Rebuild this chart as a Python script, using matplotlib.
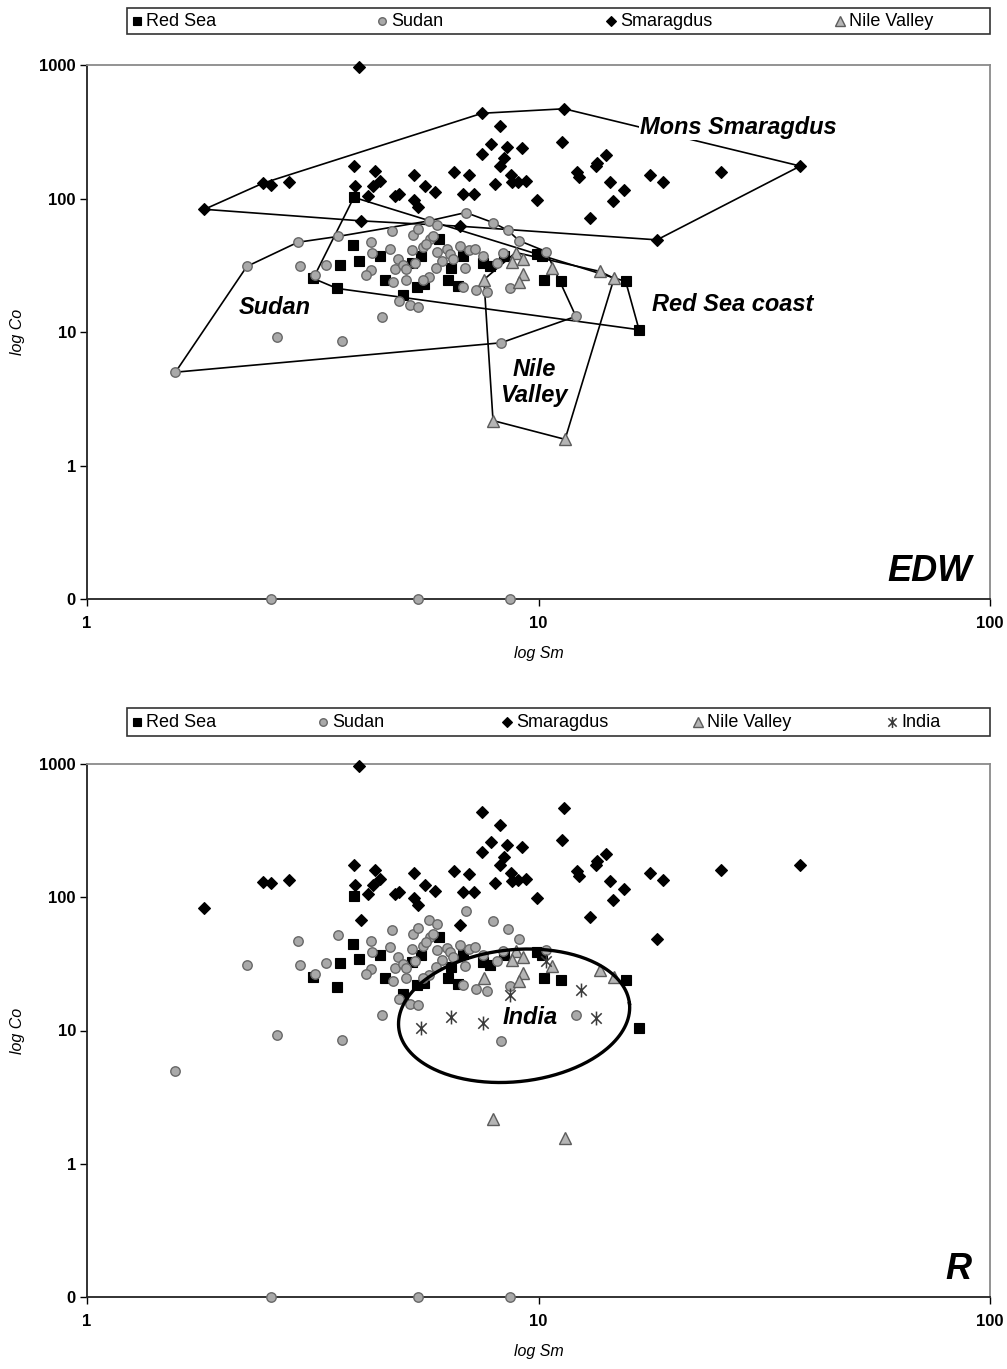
import numpy as np
import matplotlib
matplotlib.use("Agg")
import matplotlib.pyplot as plt
from matplotlib.lines import Line2D
from matplotlib.patches import Rectangle
from matplotlib.path import Path

plt.rcParams['font.family'] = ['Liberation Sans', 'DejaVu Sans']

# valores (Sm e Co, ppm); Co = 0.1 aparece como "0" no eixo
red_sea_sm = [3.9, 3.17, 3.58, 3.88, 4.0, 3.63, 4.46, 4.57, 5.0, 5.25, 5.38, 5.57, 5.49, 6.02,
              6.4, 6.3, 6.63, 6.8, 7.54, 7.81, 8.39, 9.92, 10.2, 10.3, 11.2, 15.6, 16.7]
red_sea_co = [102, 25.2, 21.2, 44.5, 34.3, 32, 36.8, 24.7, 18.8, 32.6, 21.9, 22.7, 36.8, 50,
              29.9, 24.7, 22.3, 37.4, 32.6, 31, 36.8, 38.7, 36.8, 24.7, 23.9, 23.9, 10.4]

sudan_sm = [1.57, 2.26, 2.93, 3.6, 2.96, 3.38, 3.2, 2.63, 3.67, 4.5, 4.26, 4.7, 4.74, 4.28,
            4.26, 4.15, 4.88, 4.8, 4.76, 5.1, 5.0, 5.1, 5.25, 5.27, 5.4, 5.33, 4.9, 5.2,
            5.4, 5.55, 5.75, 5.72, 5.96, 5.96, 6.1, 5.93, 5.72, 5.55, 6.27, 6.37, 6.47, 6.7,
            6.9, 6.88, 6.8, 7.0, 7.23, 7.54, 7.27, 7.7, 7.93, 8.1, 8.35, 8.56, 8.65, 9.05,
            8.26, 10.4, 12.1, 5.84, 5.63, 2.56, 5.41, 8.65]
sudan_co = [5.0, 31, 47, 52, 31, 32, 26.5, 9.2, 8.5, 13, 47, 42, 57, 39,
            29, 26.5, 35.5, 29.4, 23.5, 24.7, 31.5, 29.4, 41, 53, 59, 33, 17.2, 15.8,
            15.5, 43, 50, 68, 63, 40, 34, 30, 26, 24.7, 41.5, 38.7, 35.5, 43.7,
            78.5, 30.4, 21.9, 40.8, 42, 36.8, 20.5, 19.8, 66, 33, 39.4, 57.6, 21.5, 48.4,
            8.3, 40, 13.1, 52.8, 46, 0.1, 0.1, 0.1]

smaragdus_sm = [4.0, 1.82, 2.45, 2.55, 2.8, 3.9, 4.35, 4.45, 3.92, 4.3, 4.2, 4.8, 4.9, 5.3,
                5.6, 5.9, 5.3, 5.4, 6.5, 7.0, 6.8, 7.2, 4.05, 6.7, 7.5, 8.2, 7.85, 8.5,
                9.2, 7.5, 8.4, 8.2, 8.7, 8.0, 8.75, 9.0, 9.4, 9.9, 11.4, 11.3, 12.2, 12.3,
                13.5, 13.4, 14.1, 14.4, 15.5, 14.6, 13.0, 17.7, 18.9, 25.4, 38.0, 18.3]
smaragdus_co = [970, 83, 130, 127, 134, 174, 160, 136, 123, 123, 105, 105, 109, 151,
                123, 111, 98, 87, 157, 149, 109, 109, 68, 62, 435, 350, 258, 245,
                237, 217, 200, 174, 151, 129, 132, 134, 136, 98, 470, 267, 157, 144,
                186, 176, 210, 132, 115, 95, 71, 151, 134, 159, 175, 49]

nile_sm = [7.57, 8.9, 9.24, 9.24, 9.05, 10.7, 13.7, 14.7, 7.93, 11.45, 8.74]
nile_co = [24.7, 39.4, 35.5, 27, 23.5, 30.4, 28.4, 25.2, 2.17, 1.57, 33.7]

india_sm = [5.5, 6.4, 7.54, 8.65, 12.4, 13.4, 10.4]
india_co = [10.5, 12.7, 11.4, 18.5, 20.2, 12.4, 33]

# vertices dos poligonos (indices nas listas acima)
red_sea_hull = [0, 1, 2, 26, 25]
sudan_hull = [0, 1, 2, 3, 31, 42, 50, 53, 55, 57, 58, 56]
smaragdus_hull = [1, 2, 24, 38, 52, 53, 23, 22]
nile_hull = [0, 1, 6, 7, 9, 8]

W, H = 1007, 1369
fig = plt.figure(figsize=(W / 100, H / 100), dpi=100)

AX_L, AX_R = 87, 990
ax1 = fig.add_axes([AX_L / W, 1 - 599 / H, (AX_R - AX_L) / W, 534 / H])
ax2 = fig.add_axes([AX_L / W, 1 - 1297 / H, (AX_R - AX_L) / W, 533 / H])

star = Path([(0, -1), (0, 1), (-0.75, -0.75), (0.75, 0.75), (-0.75, 0.75), (0.75, -0.75)],
            [Path.MOVETO, Path.LINETO] * 3)

st_red = dict(marker='s', ms=7.5, mfc='black', mec='black', mew=0.8)
st_sud = dict(marker='o', ms=6.8, mfc='#a9a9a9', mec='#686868', mew=1.0)
st_sma = dict(marker='D', ms=6.2, mfc='black', mec='black', mew=0.8)
st_nil = dict(marker='^', ms=8.5, mfc='#b5b5b5', mec='#5c5c5c', mew=1.0)
st_ind = dict(marker=star, ms=10, mfc='none', mec='#3a3a3a', mew=1.1)


def setup_axis(ax):
    ax.set_xscale('log')
    ax.set_yscale('log')
    ax.set_xlim(1, 100)
    ax.set_ylim(0.1, 1000)
    ax.set_xticks([1, 10, 100])
    ax.set_xticklabels(['1', '10', '100'])
    ax.set_yticks([0.1, 1, 10, 100, 1000])
    ax.set_yticklabels(['0', '1', '10', '100', '1000'])
    ax.minorticks_off()
    ax.tick_params(direction='out', length=5, width=1, labelsize=12, colors='black')
    ax.tick_params(axis='x', pad=7)
    ax.tick_params(axis='y', pad=3)
    for lab in ax.get_xticklabels() + ax.get_yticklabels():
        lab.set_fontweight('bold')
    for s in ['left', 'bottom']:
        ax.spines[s].set_color('#222222')
        ax.spines[s].set_linewidth(1.3)
    for s in ['top', 'right']:
        ax.spines[s].set_color('#8a8a8a')
        ax.spines[s].set_linewidth(1.3)
    ax.set_xlabel('log Sm', fontsize=11.5, style='italic', labelpad=11)
    ax.set_ylabel('log Co', fontsize=11.5, style='italic', labelpad=10)


def draw_points(ax):
    ax.plot(red_sea_sm, red_sea_co, ls='none', clip_on=False, zorder=3, **st_red)
    ax.plot(sudan_sm, sudan_co, ls='none', clip_on=False, zorder=3, **st_sud)
    ax.plot(smaragdus_sm, smaragdus_co, ls='none', clip_on=False, zorder=3, **st_sma)
    ax.plot(nile_sm, nile_co, ls='none', clip_on=False, zorder=3, **st_nil)


def draw_hull(ax, xs, ys, idx):
    ii = idx + [idx[0]]
    ax.plot([xs[i] for i in ii], [ys[i] for i in ii], color='black', lw=1.2, zorder=2)


# painel de cima: EDW
setup_axis(ax1)
draw_hull(ax1, red_sea_sm, red_sea_co, red_sea_hull)
draw_hull(ax1, sudan_sm, sudan_co, sudan_hull)
draw_hull(ax1, smaragdus_sm, smaragdus_co, smaragdus_hull)
draw_hull(ax1, nile_sm, nile_co, nile_hull)
draw_points(ax1)

lab = dict(fontsize=17, fontweight='bold', style='italic', zorder=4)
ax1.text(16.8, 340, 'Mons Smaragdus', ha='left', va='center',
         bbox=dict(fc='white', ec='none', pad=1), **lab)
ax1.text(17.8, 16.1, 'Red Sea coast', ha='left', va='center', **lab)
ax1.text(2.17, 15.3, 'Sudan', ha='left', va='center', **lab)
ax1.text(9.77, 4.2, 'Nile\nValley', ha='center', va='center', linespacing=1.15, **lab)
ax1.text(0.98, 0.018, 'EDW', transform=ax1.transAxes, ha='right', va='bottom',
         fontsize=26, fontweight='bold', style='italic')

# painel de baixo: R
setup_axis(ax2)
draw_points(ax2)
ax2.plot(india_sm, india_co, ls='none', zorder=3, **st_ind)

# elipse "India" (em pixels de tela, convertida para decadas)
px_dec_x = (AX_R - AX_L) / 2.0
px_dec_y = 533 / 4.0
t = np.linspace(0, 2 * np.pi, 300)
a, b, th = 116, 66, np.radians(6)
u = a * np.cos(t)
v = b * np.sin(t)
ur = u * np.cos(th) - v * np.sin(th)
vr = u * np.sin(th) + v * np.cos(th)
ex = 10 ** (np.log10(8.83) + ur / px_dec_x)
ey = 10 ** (np.log10(12.9) + vr / px_dec_y)
ax2.plot(ex, ey, color='black', lw=2.4, zorder=4)
ax2.text(9.58, 12.5, 'India', ha='center', va='center', **lab)
ax2.text(0.98, 0.018, 'R', transform=ax2.transAxes, ha='right', va='bottom',
         fontsize=26, fontweight='bold', style='italic')


# legendas (caixa no topo de cada painel)
def legend_box(y_top, y_bot, entries):
    fig.add_artist(Rectangle((127 / W, 1 - y_bot / H), (990 - 127) / W, (y_bot - y_top) / H,
                             transform=fig.transFigure, fc='white', ec='#333333', lw=1.2))
    yc = 1 - (y_top + y_bot) / 2 / H
    for x, name, st in entries:
        s = dict(st)
        s['ms'] = s['ms'] * 0.8
        fig.add_artist(Line2D([x / W], [yc], transform=fig.transFigure, ls='none', **s))
        fig.text((x + 9) / W, yc, name, ha='left', va='center', fontsize=13)


legend_box(8, 34, [(137, 'Red Sea', st_red), (382, 'Sudan', st_sud),
                   (611, 'Smaragdus', st_sma), (840, 'Nile Valley', st_nil)])
legend_box(708, 736, [(137, 'Red Sea', st_red), (323, 'Sudan', st_sud),
                      (507, 'Smaragdus', st_sma), (698, 'Nile Valley', st_nil),
                      (892, 'India', st_ind)])

fig.savefig('out.png', dpi=100, facecolor='white')
